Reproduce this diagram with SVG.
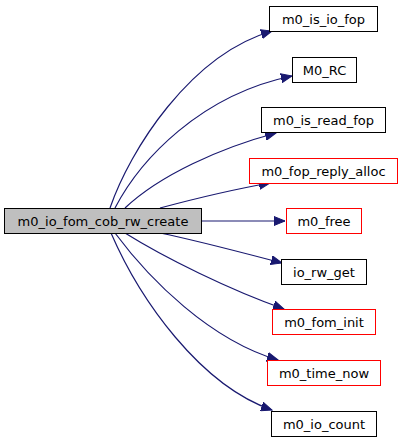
<svg xmlns="http://www.w3.org/2000/svg" width="404" height="443" viewBox="0 0 404 443">
<style>
.n rect{fill:#fff;stroke:#000;stroke-width:1}
.n.r rect{stroke:#ff0000}
.n.m rect{fill:#bfbfbf}
text{font-family:"DejaVu Sans",sans-serif;font-size:13px;text-anchor:middle;fill:#000}
.e path{fill:none;stroke:#191970;stroke-width:1.2}
</style>
<defs>
<marker id="a" markerUnits="userSpaceOnUse" markerWidth="12" markerHeight="10" refX="11" refY="5" orient="auto">
<polygon points="0,0.5 11,5 0,9.5" fill="#191970" stroke="#191970"/>
</marker>
</defs>
<rect width="404" height="443" fill="#fff"/>
<g id="edges" class="e">
<path d="M110,208 C130,150 190,55 272,31" marker-end="url(#a)"/>
<path d="M115,208 C140,160 200,95 292,76" marker-end="url(#a)"/>
<path d="M125,208 C160,175 220,148 276,133" marker-end="url(#a)"/>
<path d="M160,208 C190,200 230,190 270,183" marker-end="url(#a)"/>
<path d="M202,221 L285,221" marker-end="url(#a)"/>
<path d="M160,233 C195,240 240,252 282,263" marker-end="url(#a)"/>
<path d="M125,233 C165,258 230,290 284,309" marker-end="url(#a)"/>
<path d="M115,233 C150,280 210,340 278,360" marker-end="url(#a)"/>
<path d="M111,233 C140,300 200,385 272,410" marker-end="url(#a)"/>
</g>
<g id="n_main" class="n m"><rect x="4.5" y="208.5" width="197" height="25"/><text x="103" y="225.5">m0_io_fom_cob_rw_create</text></g>
<g id="n1" class="n"><rect x="269.5" y="6.5" width="108" height="25"/><text x="323.5" y="23.5">m0_is_io_fop</text></g>
<g id="n2" class="n"><rect x="292.5" y="57.5" width="64" height="25"/><text x="324.5" y="74.5">M0_RC</text></g>
<g id="n3" class="n"><rect x="261.5" y="107.5" width="124" height="25"/><text x="323.5" y="124.5">m0_is_read_fop</text></g>
<g id="n4" class="n r"><rect x="249.5" y="158.5" width="148" height="25"/><text x="323.5" y="175.5">m0_fop_reply_alloc</text></g>
<g id="n5" class="n r"><rect x="286.5" y="208.5" width="75" height="25"/><text x="324" y="225.5">m0_free</text></g>
<g id="n6" class="n"><rect x="281.5" y="259.5" width="85" height="25"/><text x="324" y="276.5">io_rw_get</text></g>
<g id="n7" class="n r"><rect x="272.5" y="309.5" width="103" height="25"/><text x="324" y="326.5">m0_fom_init</text></g>
<g id="n8" class="n r"><rect x="267.5" y="360.5" width="113" height="25"/><text x="324" y="377.5">m0_time_now</text></g>
<g id="n9" class="n"><rect x="271.5" y="411.5" width="105" height="25"/><text x="324" y="428.5">m0_io_count</text></g>
</svg>
